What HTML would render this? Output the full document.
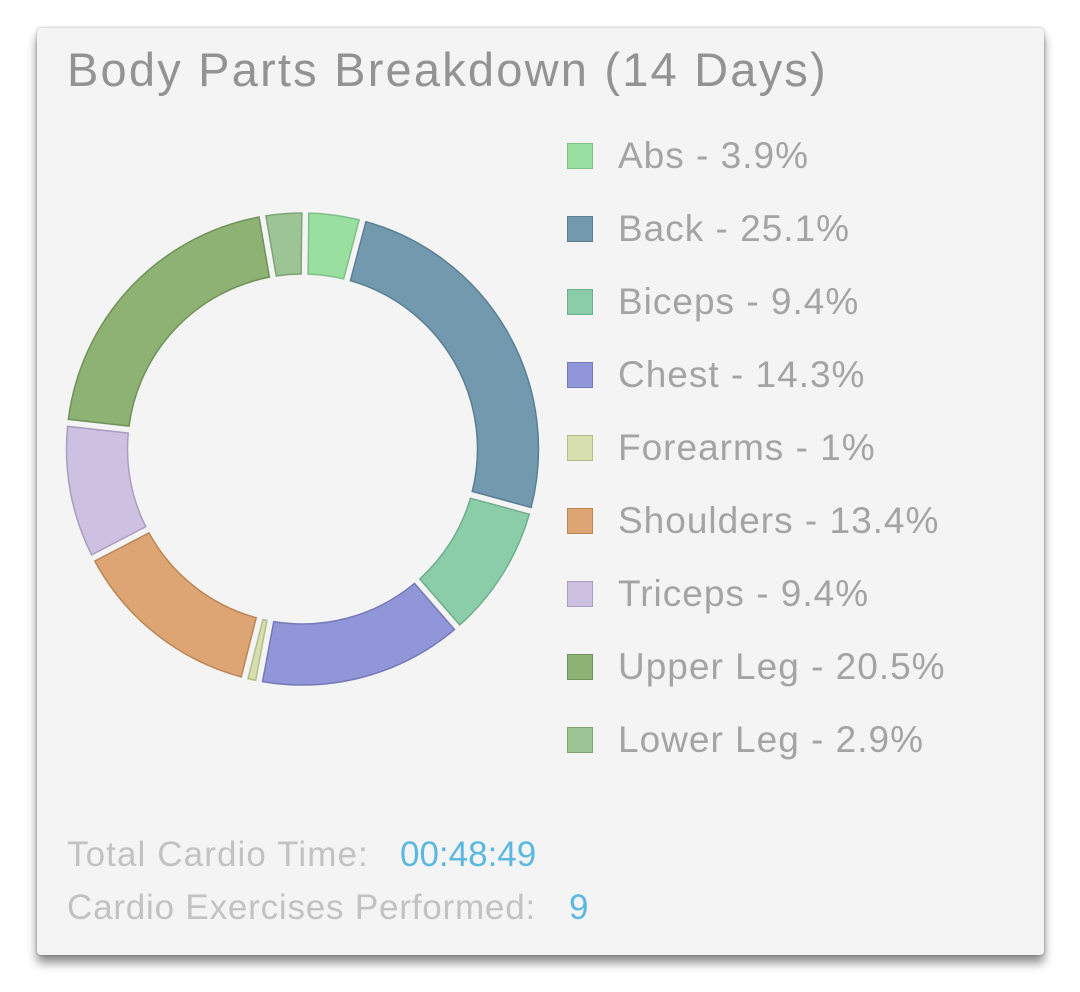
<!DOCTYPE html>
<html><head><style>
body{margin:0;width:1080px;height:992px;background:#fff;font-family:"Liberation Sans",sans-serif;overflow:hidden}
.card{position:absolute;left:37px;top:28px;width:1007px;height:927px;background:#f4f4f4;border-radius:4px;box-shadow:0 8px 10px rgba(0,0,0,.45),0 0 3px rgba(0,0,0,.3)}
.t{position:absolute;left:67px;top:42px;font-size:47px;color:#939393;white-space:nowrap;letter-spacing:2.2px}
.lg{position:absolute;left:567px;font-size:37px;color:#a4a4a4;white-space:nowrap;line-height:40px;letter-spacing:1px}
.lg i{position:absolute;left:0;top:7px;width:24px;height:24px;border:1px solid}
.lg span{position:absolute;left:51px;top:0}
.f{position:absolute;left:67px;font-size:35px;color:#c2c2c2;white-space:nowrap;letter-spacing:1.1px}
.f b{font-weight:normal;color:#5bb8e0;position:absolute;letter-spacing:0}
</style></head><body>
<div class="card"></div>
<div class="t">Body Parts Breakdown (14 Days)</div>
<svg id="s" width="1080" height="992" style="position:absolute;left:0;top:0"></svg>
<div id="leg"></div>
<div class="f" style="top:835px">Total Cardio Time:<b style="left:333px">00:48:49</b></div>
<div class="f" style="top:888px;letter-spacing:0.8px">Cardio Exercises Performed:<b style="left:502px">9</b></div>
<script>
var d=[["Abs",3.9,"#98dfa0","#7fbf88"],["Back",25.1,"#7299ae","#5a7e92"],["Biceps",9.4,"#8ccda9","#6fae8c"],["Chest",14.3,"#9196d9","#7479b8"],["Forearms",1,"#d8dfae","#b5bc8c"],["Shoulders",13.4,"#dda573","#bb8656"],["Triceps",9.4,"#cdc0e0","#aa9dc0"],["Upper Leg",20.5,"#8db273","#6f9258"],["Lower Leg",2.9,"#9cc494","#7ea476"]];
var cx=302.5,cy=449,R=236,r=175,g=3.5,tot=0;d.forEach(function(x){tot+=x[1]});
var a=-Math.PI/2+0.012,h="",L="";
function p(rad,ang){return (cx+rad*Math.cos(ang)).toFixed(2)+","+(cy+rad*Math.sin(ang)).toFixed(2)}
d.forEach(function(x,i){
 var s=a,e=a+x[1]/tot*2*Math.PI;a=e;
 var so=s+g/R,eo=e-g/R,si=s+g/r,ei=e-g/r;
 var lf=(e-s)>Math.PI?1:0;
 h+='<path d="M'+p(R,so)+' A'+R+','+R+' 0 '+lf+' 1 '+p(R,eo)+' L'+p(r,ei)+' A'+r+','+r+' 0 '+lf+' 0 '+p(r,si)+' Z" fill="'+x[2]+'" stroke="'+x[3]+'" stroke-width="1.5"/>';
 L+='<div class="lg" style="top:'+(136+i*73)+'px"><i style="background:'+x[2]+';border-color:'+x[3]+'"></i><span>'+x[0]+' - '+x[1]+'%</span></div>';
});
document.getElementById("s").innerHTML=h;document.getElementById("leg").innerHTML=L;
</script>
</body></html>
